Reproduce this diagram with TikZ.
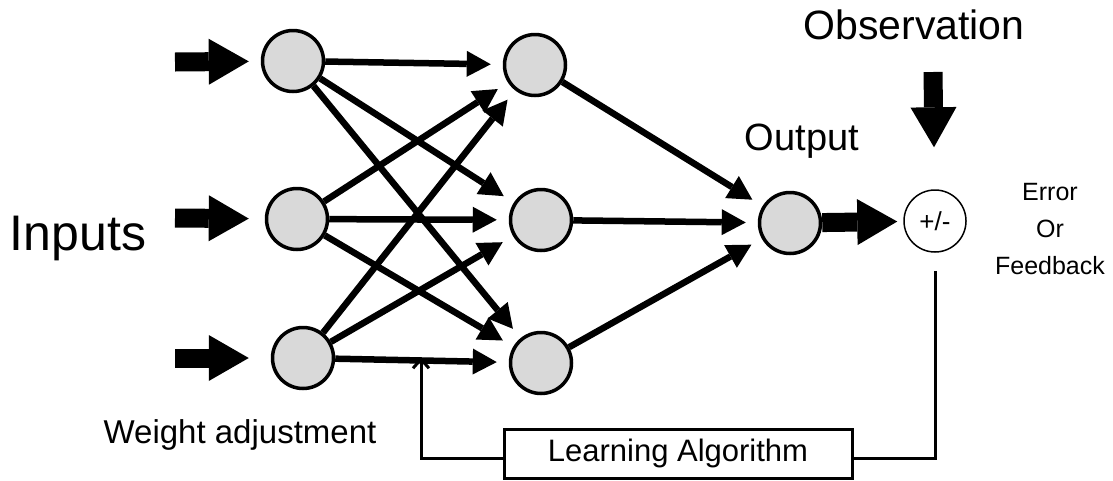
\documentclass[tikz,border=0pt]{standalone}
\usepackage{fontspec}
\setmainfont{Liberation Sans}
\usetikzlibrary{arrows.meta}
\definecolor{nodegrey}{RGB}{217,217,217}
\begin{document}
\begin{tikzpicture}[x=1pt,y=-1pt,
  neuron/.style={circle,draw=black,line width=3.5pt,fill=nodegrey,minimum size=61pt,inner sep=0pt},
  sumnode/.style={circle,draw=black,line width=1.5pt,fill=white,minimum size=62pt,inner sep=0pt,font=\fontsize{26}{30}\selectfont},
  wire/.style={line width=6.5pt,-{Triangle[length=24pt,width=26pt,line width=0pt]},shorten >=12pt},
  bigarr/.style={line width=19pt,-{Triangle[length=40pt,width=46pt,line width=0pt]}},
  loopline/.style={line width=3pt},
  lbl/.style={inner sep=0pt,anchor=base},
  labox/.style={draw=black,line width=3pt,fill=white,minimum width=348pt,minimum height=49pt,inner sep=0pt,font=\fontsize{31}{36}\selectfont}
]
\useasboundingbox (0,0) rectangle (1113,480);

% neurons
\node[neuron] (i1) at (293,61) {};
\node[neuron] (i2) at (297,219) {};
\node[neuron] (i3) at (303,358) {};
\node[neuron] (h1) at (535,65) {};
\node[neuron] (h2) at (541,220) {};
\node[neuron] (h3) at (541,363) {};
\node[neuron] (o) at (790,223) {};
\node[sumnode] (pm) at (935,221) {+/-};

% learning algorithm box
\node[labox] (la) at (678,453.5) {Learning Algorithm};

% free ends
\coordinate (a1) at (175,62);
\coordinate (a2) at (175,218);
\coordinate (a3) at (175,358);
\coordinate (obs) at (933,72);
\coordinate (wa) at (421,357);

% input arrows
\draw[bigarr,shorten >=12pt] (a1) -- (i1);
\draw[bigarr,shorten >=16pt] (a2) -- (i2);
\draw[bigarr,shorten >=22pt] (a3) -- (i3);

% connections
\foreach \a in {i1,i2,i3}{
  \foreach \b in {h1,h2,h3}{
    \draw[wire] (\a) -- (\b);
  }
}
\foreach \b in {h1,h2,h3}{
  \draw[wire] (\b) -- (o);
}

% output and observation
\draw[bigarr,shorten >=6pt] (o) -- (pm);
\draw[bigarr,shorten >=42pt] (obs) -- (pm);

% feedback loop
\draw[loopline] ([yshift=-18pt]pm.south) |- ([yshift=-5pt]la.east);
\draw[loopline,-{Straight Barb[length=9pt,width=16pt]}] ([yshift=-5pt]la.west) -| (wa);

% labels
\node[lbl,font=\fontsize{50}{60}\selectfont] (inputs) at (78,250) {Inputs};
\node[lbl,font=\fontsize{41}{50}\selectfont] (obstxt) at (914,39) {Observation};
\node[lbl,font=\fontsize{38}{46}\selectfont] (outtxt) at (802,150) {Output};
\node[lbl,font=\fontsize{25}{30}\selectfont] (err1) at (1050,200) {Error};
\node[lbl,font=\fontsize{25}{30}\selectfont] (err2) at (1050,237) {Or};
\node[lbl,font=\fontsize{25}{30}\selectfont] (err3) at (1050,274) {Feedback};
\node[lbl,font=\fontsize{33}{40}\selectfont] (wadj) at (240,443) {Weight adjustment};
\end{tikzpicture}
\end{document}
